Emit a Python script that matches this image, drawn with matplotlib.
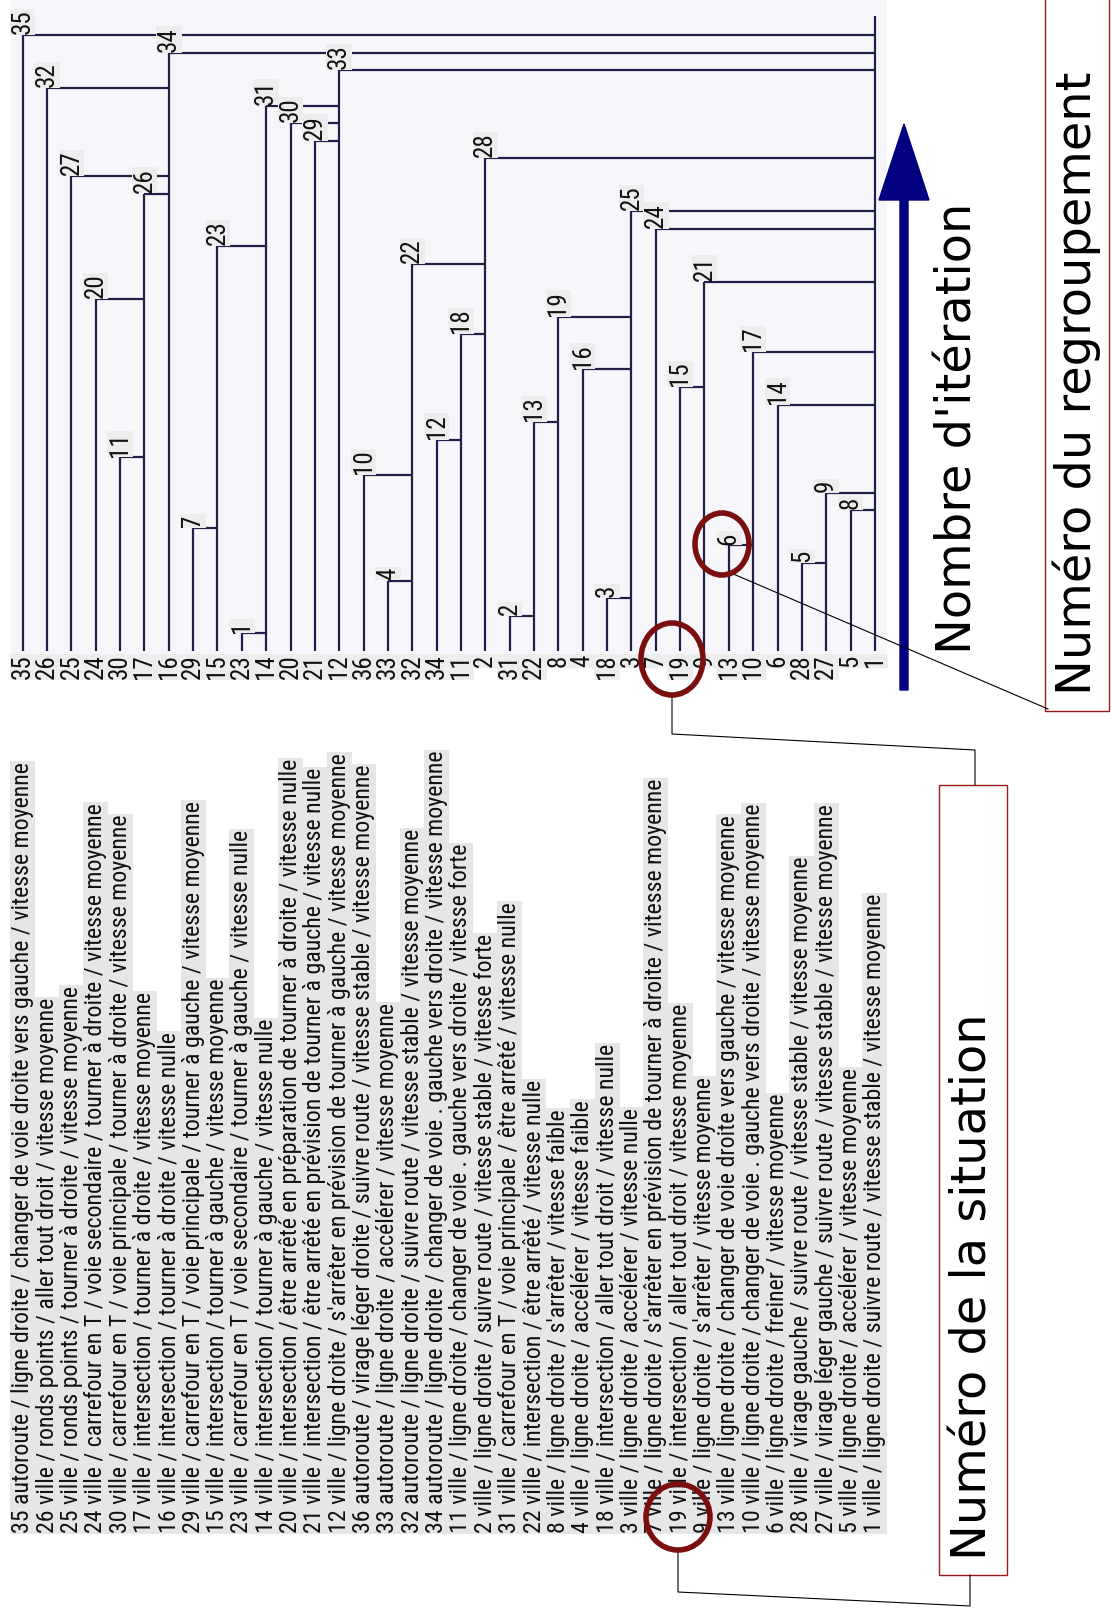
import matplotlib
matplotlib.use("Agg")
import matplotlib.pyplot as plt
from matplotlib import font_manager, transforms
from matplotlib.patches import Ellipse, Rectangle, FancyArrow

# situations in the order they appear along the tree
leaf_order = [35, 26, 25, 24, 30, 17, 16, 29, 15, 23, 14, 20, 21, 12, 36, 33, 32, 34,
              11, 2, 31, 22, 8, 4, 18, 3, 7, 19, 9, 13, 10, 6, 28, 27, 5, 1]

situations = [
    "autoroute / ligne droite / changer de voie droite vers gauche / vitesse moyenne",
    "ville / ronds points / aller tout droit / vitesse moyenne",
    "ville / ronds points / tourner à droite / vitesse moyenne",
    "ville / carrefour en T / voie secondaire / tourner à droite / vitesse moyenne",
    "ville / carrefour en T / voie principale / tourner à droite / vitesse moyenne",
    "ville / intersection / tourner à droite / vitesse moyenne",
    "ville / intersection / tourner à droite / vitesse nulle",
    "ville / carrefour en T / voie principale / tourner à gauche / vitesse moyenne",
    "ville / intersection / tourner à gauche / vitesse moyenne",
    "ville / carrefour en T / voie secondaire / tourner à gauche / vitesse nulle",
    "ville / intersection / tourner à gauche / vitesse nulle",
    "ville / intersection / être arrêté en préparation de tourner à droite / vitesse nulle",
    "ville / intersection / être arrêté en prévision de tourner à gauche / vitesse nulle",
    "ville / ligne droite / s'arrêter en prévision de tourner à gauche / vitesse moyenne",
    "autoroute / virage léger droite / suivre route / vitesse stable / vitesse moyenne",
    "autoroute / ligne droite / accélérer / vitesse moyenne",
    "autoroute / ligne droite / suivre route / vitesse stable / vitesse moyenne",
    "autoroute / ligne droite / changer de voie . gauche vers droite / vitesse moyenne",
    "ville / ligne droite / changer de voie . gauche vers droite / vitesse forte",
    "ville / ligne droite / suivre route / vitesse stable / vitesse forte",
    "ville / carrefour en T / voie principale / être arrêté / vitesse nulle",
    "ville / intersection / être arrêté / vitesse nulle",
    "ville / ligne droite / s'arrêter / vitesse faible",
    "ville / ligne droite / accélérer / vitesse faible",
    "ville / intersection / aller tout droit / vitesse nulle",
    "ville / ligne droite / accélérer / vitesse nulle",
    "ville / ligne droite / s'arrêter en prévision de tourner à droite / vitesse moyenne",
    "ville / intersection / aller tout droit / vitesse moyenne",
    "ville / ligne droite / s'arrêter / vitesse moyenne",
    "ville / ligne droite / changer de voie droite vers gauche / vitesse moyenne",
    "ville / ligne droite / changer de voie . gauche vers droite / vitesse moyenne",
    "ville / ligne droite / freiner / vitesse moyenne",
    "ville / virage gauche / suivre route / vitesse stable / vitesse moyenne",
    "ville / virage léger gauche / suivre route / vitesse stable / vitesse moyenne",
    "ville / ligne droite / accélérer / vitesse moyenne",
    "ville / ligne droite / suivre route / vitesse stable / vitesse moyenne",
]

# iteration k (1..35): the group headed by merge_left[k-1] joins the one headed by merge_right[k-1]
merge_left = [23, 31, 18, 33, 28, 13, 29, 5, 27, 36, 30, 34, 22, 6, 19, 4, 10, 11,
              8, 24, 9, 32, 15, 7, 3, 17, 25, 2, 21, 20, 14, 26, 12, 16, 35]
merge_right = [14, 22, 3, 32, 27, 10, 15, 1, 1, 32, 17, 11, 8, 1, 9, 3, 1, 2,
               3, 17, 1, 2, 14, 1, 1, 16, 16, 1, 12, 12, 12, 16, 1, 1, 1]

W, H = 1111, 1614
names = {f.name for f in font_manager.fontManager.ttflist}
narrow = next((n for n in ["Liberation Sans Narrow", "Roboto Condensed", "Open Sans Condensed"]
               if n in names), "Liberation Sans")
line_col = "#20204a"

fig = plt.figure(figsize=(W / 100, H / 100), dpi=100)
fig.patch.set_facecolor("white")

# tree axes: x = leaf rank, y = iteration
ax = fig.add_axes([10.5 / W, 1 - 668.6 / H, 876.6 / W, 668.6 / H])
ax.set_facecolor("#f6f6fb")
ax.set_xlim(-0.5, len(leaf_order) - 0.5)
ax.set_ylim(-1, 37)
ax.set_xticks([])
ax.set_yticks([])
for s in ax.spines.values():
    s.set_visible(False)

pos = {leaf: i for i, leaf in enumerate(leaf_order)}
top = {leaf: k for k, leaf in enumerate(merge_left, start=1)}
tops = [top.get(leaf, 36.1) for leaf in leaf_order]
ax.vlines(range(len(leaf_order)), 0, tops, color=line_col, lw=1.6)
iters = range(1, len(merge_left) + 1)
ax.hlines(list(iters), [pos[a] for a in merge_left], [pos[b] for b in merge_right],
          color=line_col, lw=1.6)

lab_box = dict(facecolor="#ededed", edgecolor="none", pad=0.5)
for k, a in zip(iters, merge_left):
    ax.text(pos[a], k + 0.05, str(k), rotation=90, ha="center", va="bottom",
            fontsize=18, family=narrow, color="#111111", bbox=lab_box)
for i, leaf in enumerate(leaf_order):
    ax.text(i, -0.2, str(leaf), rotation=90, ha="center", va="top",
            fontsize=18, family=narrow, color="#111111", bbox=lab_box)

# overlay in pixel units for the list and the annotations
over = fig.add_axes([0, 0, 1, 1])
over.set_xlim(0, W)
over.set_ylim(H, 0)
over.axis("off")

trans = transforms.blended_transform_factory(ax.transData, over.transData)
rows = []
for i, (leaf, txt) in enumerate(zip(leaf_order, situations)):
    rows.append(over.text(i, 1533, f"{leaf} {txt}", transform=trans, rotation=90,
                          ha="center", va="bottom", fontsize=16, family=narrow,
                          color="#111111",
                          bbox=dict(facecolor="#e6e6e6", edgecolor="none", pad=0.6)))
renderer = fig.canvas.get_renderer()
length = rows[0].get_window_extent(renderer).height
size = 16 * 773 / length
for t in rows:
    t.set_fontsize(size)

# arrow and captions
over.add_patch(FancyArrow(904, 690, 0, -566, width=8, head_width=50, head_length=76,
                          length_includes_head=True, color="#000080"))
over.text(958, 654, "Nombre d'itération", rotation=90, ha="center", va="bottom",
          fontsize=34.5, family="DejaVu Sans")

box_col = "#9b1b1b"
over.add_patch(Rectangle((1045, -5), 64, 716, facecolor="white", edgecolor=box_col, lw=1))
over.text(1077, 695, "Numéro du regroupement", rotation=90, ha="center", va="bottom",
          fontsize=34.5, family="DejaVu Sans")
over.add_patch(Rectangle((939, 785), 68, 790, facecolor="white", edgecolor=box_col, lw=1))
over.text(973, 1560, "Numéro de la situation", rotation=90, ha="center", va="bottom",
          fontsize=34.5, family="DejaVu Sans")

circ_col = "#7b0f0f"
for (cx, cy, w, h) in [(722, 544, 54, 62), (672, 659, 62, 72), (678, 1517, 64, 66)]:
    over.add_patch(Ellipse((cx, cy), w, h, facecolor="none", edgecolor=circ_col, lw=4,
                           zorder=6))

over.plot([731, 1048], [573, 709], color="black", lw=0.8)
over.plot([672, 672, 975, 975], [695, 734, 750, 785], color="black", lw=0.8)
over.plot([678, 678, 970, 970], [1550, 1592, 1606, 1575], color="black", lw=0.8)

fig.savefig("out.png", dpi=100)
